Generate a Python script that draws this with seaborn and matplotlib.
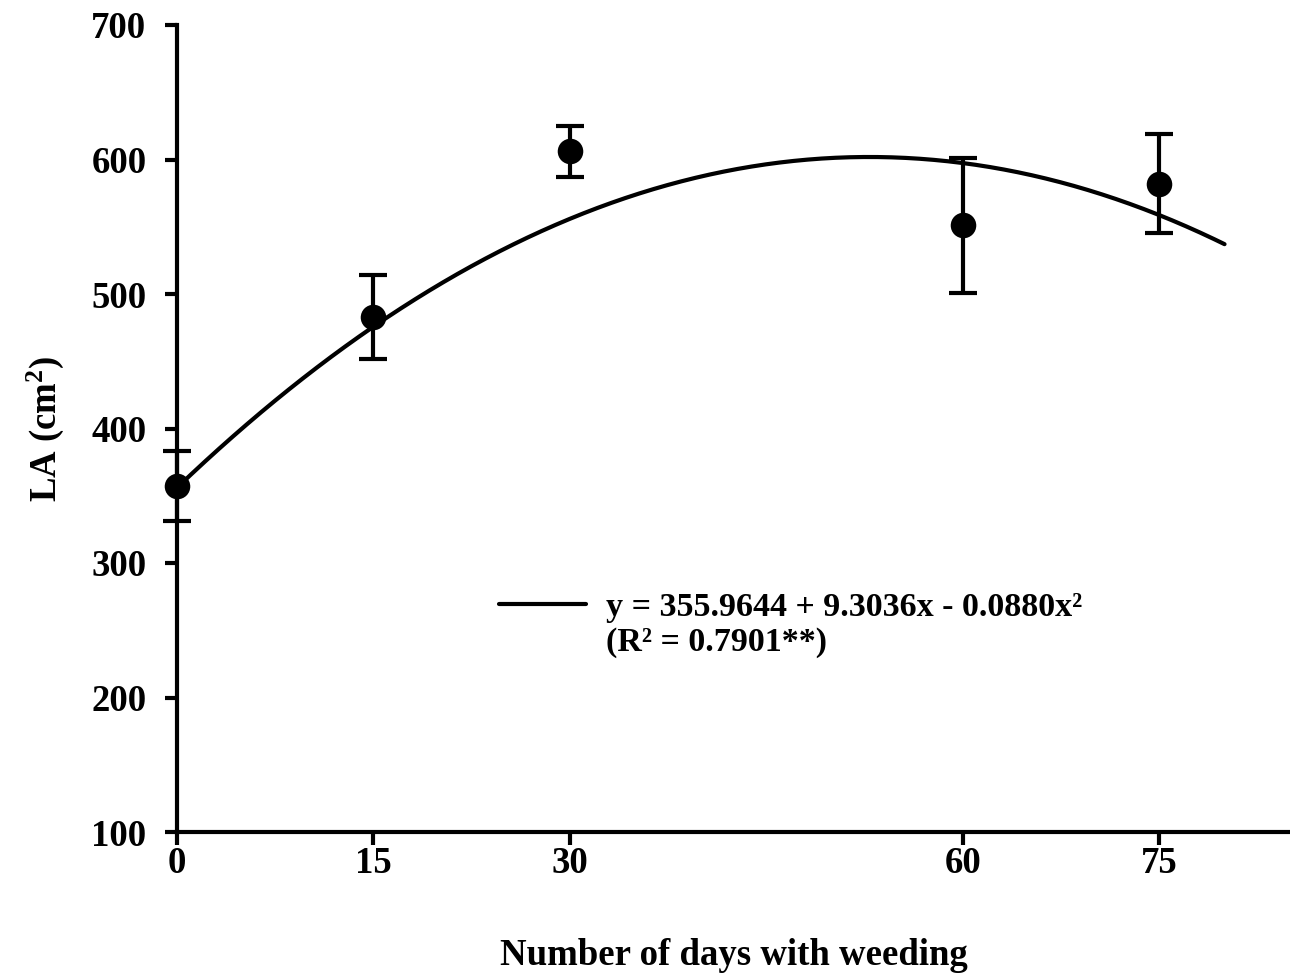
import numpy as np
import pandas as pd
import matplotlib
matplotlib.use("Agg")
import matplotlib.pyplot as plt
from matplotlib.lines import Line2D
import seaborn as sns

# Data
days = [0, 15, 30, 60, 75]
la_mean = [357, 483, 606, 551, 582]
err_low = [26, 31, 19, 50, 37]
err_high = [26, 31, 19, 50, 37]
coef = [355.9644, 9.3036, -0.0880]
x_ticks = [0, 15, 30, 60, 75]
y_ticks = [100, 200, 300, 400, 500, 600, 700]
eq_line1 = "y = 355.9644 + 9.3036x - 0.0880x²"
eq_line2 = "(R² = 0.7901**)"

sns.set_theme(style="white")
plt.rcParams["font.family"] = ["Liberation Serif", "DejaVu Serif"]
plt.rcParams["font.weight"] = "bold"
plt.rcParams["text.color"] = "black"
plt.rcParams["axes.labelcolor"] = "black"
plt.rcParams["xtick.color"] = "black"
plt.rcParams["ytick.color"] = "black"
plt.rcParams["mathtext.fontset"] = "custom"
plt.rcParams["mathtext.rm"] = "Liberation Serif:bold"
plt.rcParams["mathtext.bf"] = "Liberation Serif:bold"
plt.rcParams["mathtext.it"] = "Liberation Serif:bold"

fig = plt.figure(figsize=(12.9, 9.75), dpi=100)
ax = fig.add_axes([177/1290, 1-832/975, (1290-177)/1290, (832-25)/975])

xfit = np.linspace(0, 80, 300)
yfit = coef[0] + coef[1]*xfit + coef[2]*xfit**2
fit_df = pd.DataFrame({"x": xfit, "y": yfit})
sns.lineplot(data=fit_df, x="x", y="y", ax=ax, color="black", linewidth=3.0,
             legend=False, zorder=2)

ax.errorbar(days, la_mean, yerr=[err_low, err_high], fmt="none", ecolor="black",
            elinewidth=3.0, capsize=10, capthick=3.0, zorder=3, clip_on=False)
pts = pd.DataFrame({"d": days, "m": la_mean})
sns.scatterplot(data=pts, x="d", y="m", ax=ax, color="black", s=290,
                edgecolor="black", zorder=4, legend=False, clip_on=False)

ax.set_xlim(0, 85)
ax.set_ylim(100, 700)
ax.set_xticks(x_ticks)
ax.set_yticks(y_ticks)
ax.set_xticklabels([str(v) for v in x_ticks], fontsize=26.5, fontweight="bold")
ax.set_yticklabels([str(v) for v in y_ticks], fontsize=26.5, fontweight="bold")

for s in ["top", "right"]:
    ax.spines[s].set_visible(False)
for s in ["left", "bottom"]:
    ax.spines[s].set_linewidth(3.0)
    ax.spines[s].set_color("black")
ax.tick_params(axis="both", which="major", direction="out", length=9, width=3.0,
               color="black", bottom=True, left=True)
ax.tick_params(axis="y", pad=13)
ax.tick_params(axis="x", pad=1)

ax.set_xlabel("Number of days with weeding", fontsize=26.5, fontweight="bold", labelpad=41)
ax.set_ylabel("LA (cm$^2$)", fontsize=26.5, fontweight="bold", labelpad=18)

handles = [Line2D([], [], color="black", linewidth=3.0),
           Line2D([], [], color="none", linewidth=0)]
leg = ax.legend(handles, [eq_line1, eq_line2], loc="upper left",
                bbox_to_anchor=(0.262, 0.335), frameon=False,
                fontsize=24.5, handlelength=2.55, handletextpad=0.6,
                labelspacing=0.1)
for t in leg.get_texts():
    t.set_fontweight("bold")
    t.set_color("black")

fig.savefig("out.png", dpi=100)
